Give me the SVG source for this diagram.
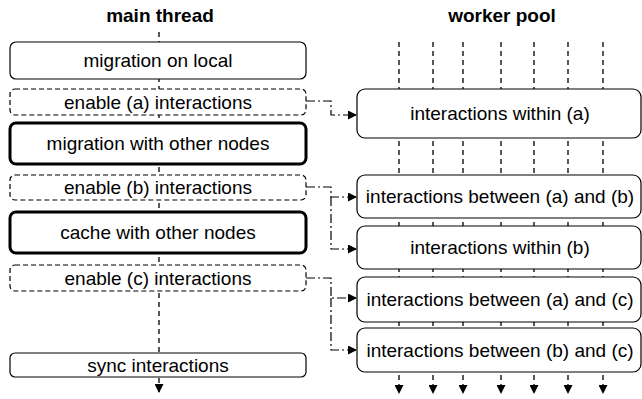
<svg xmlns="http://www.w3.org/2000/svg" width="642" height="399" viewBox="0 0 642 399">
<style>
text{font-family:"Liberation Sans",Arial,sans-serif;fill:#000}
.t{font-size:19px;text-anchor:middle}
.h{font-size:19px;font-weight:bold;text-anchor:middle}
.b{fill:#fff;stroke:#000;stroke-width:1.2}
.bd{fill:#fff;stroke:#000;stroke-width:1.2;stroke-dasharray:5 3}
.bt{fill:#fff;stroke:#000;stroke-width:3}
.v{fill:none;stroke:#000;stroke-width:1.3;stroke-dasharray:5 4}
.c{fill:none;stroke:#000;stroke-width:1.2;stroke-dasharray:9 3 2 3}
</style>
<defs>
<marker id="ah" markerWidth="9" markerHeight="9" refX="8" refY="4.5" orient="auto" markerUnits="userSpaceOnUse">
<path d="M0,0 L9,4.5 L0,9 z" fill="#000"/>
</marker>
</defs>
<text class="h" x="160" y="22">main thread</text>
<text class="h" x="502" y="22">worker pool</text>
<g id="lanes">
<path class="v" d="M159,32 V353"/>
<path class="v" d="M159,378 V392" marker-end="url(#ah)"/>
<path class="v" d="M399,42 V393" marker-end="url(#ah)"/>
<path class="v" d="M433,42 V393" marker-end="url(#ah)"/>
<path class="v" d="M463,42 V393" marker-end="url(#ah)"/>
<path class="v" d="M501,42 V393" marker-end="url(#ah)"/>
<path class="v" d="M534,42 V393" marker-end="url(#ah)"/>
<path class="v" d="M568,42 V393" marker-end="url(#ah)"/>
<path class="v" d="M603,42 V393" marker-end="url(#ah)"/>
</g>
<g id="connectors">
<path class="c" d="M306,101 H331 V115 H356" marker-end="url(#ah)"/>
<path class="c" d="M306,187 H331 V197 H356" marker-end="url(#ah)"/>
<path class="c" d="M331,197 V249 H356" marker-end="url(#ah)"/>
<path class="c" d="M306,278 H331 V298 H356" marker-end="url(#ah)"/>
<path class="c" d="M331,298 V350 H356" marker-end="url(#ah)"/>
</g>
<g id="m1"><rect class="b" x="10" y="42" width="296" height="37" rx="6"/><text class="t" x="158" y="67">migration on local</text></g>
<g id="m2"><rect class="bd" x="10" y="89" width="296" height="26" rx="5"/><text class="t" x="158" y="109">enable (a) interactions</text></g>
<g id="m3"><rect class="bt" x="10" y="123" width="296" height="41" rx="6"/><text class="t" x="158" y="150">migration with other nodes</text></g>
<g id="m4"><rect class="bd" x="10" y="175" width="296" height="25" rx="5"/><text class="t" x="158" y="194">enable (b) interactions</text></g>
<g id="m5"><rect class="bt" x="10" y="212" width="296" height="41" rx="6"/><text class="t" x="158" y="239">cache with other nodes</text></g>
<g id="m6"><rect class="bd" x="10" y="265" width="296" height="26" rx="5"/><text class="t" x="158" y="285">enable (c) interactions</text></g>
<g id="m7"><rect class="b" x="10" y="353" width="296" height="24" rx="5"/><text class="t" x="158" y="372">sync interactions</text></g>
<g id="w1"><rect class="b" x="357" y="89" width="284" height="49" rx="8"/><text class="t" x="500" y="120">interactions within (a)</text></g>
<g id="w2"><rect class="b" x="357" y="175" width="284" height="43" rx="8"/><text class="t" x="500" y="203">interactions between (a) and (b)</text></g>
<g id="w3"><rect class="b" x="357" y="226" width="284" height="43" rx="8"/><text class="t" x="500" y="254">interactions within (b)</text></g>
<g id="w4"><rect class="b" x="357" y="277" width="284" height="45" rx="8"/><text class="t" x="500" y="306">interactions between (a) and (c)</text></g>
<g id="w5"><rect class="b" x="357" y="328" width="284" height="44" rx="8"/><text class="t" x="500" y="357">interactions between (b) and (c)</text></g>
</svg>
